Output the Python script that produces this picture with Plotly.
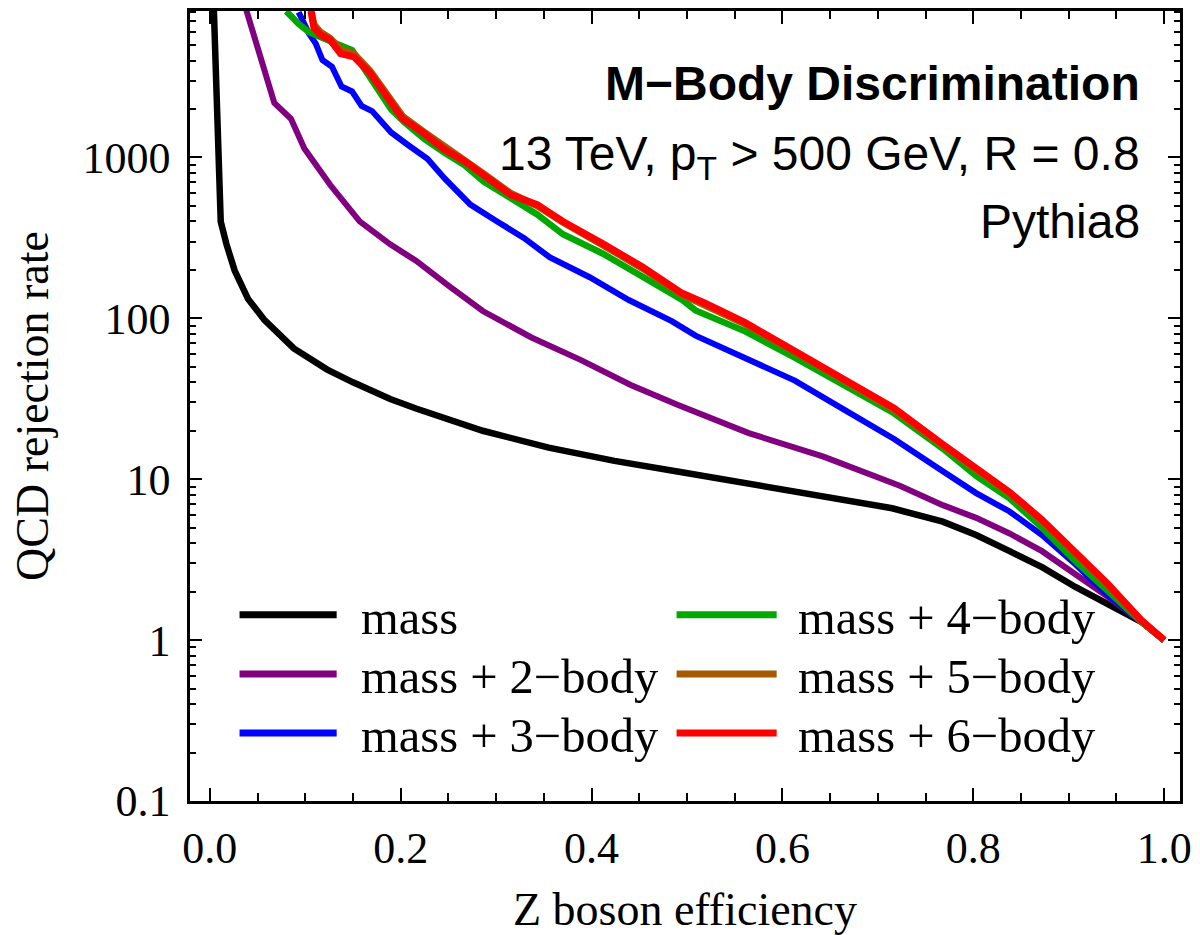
import plotly.graph_objects as go

# ---------------- data ----------------
series_names = ["mass", "mass + 2−body", "mass + 3−body",
                "mass + 4−body", "mass + 5−body", "mass + 6−body"]
series_colors = ["#000000", "#800080", "#0000ff", "#00a800", "#a65a00", "#ff0000"]

mass_x = [0.004, 0.0114, 0.0173, 0.026, 0.040, 0.057, 0.088, 0.123, 0.150, 0.189,
          0.216, 0.286, 0.355, 0.424, 0.493, 0.612, 0.715, 0.768, 0.803,
          0.838, 0.872, 0.907, 0.941, 0.976, 1.0]
mass_y = [9000, 400, 290, 198, 132, 98, 65, 48, 40, 31.5,
          27.5, 20, 15.7, 13.0, 11.1, 8.5, 6.6, 5.45, 4.5,
          3.57, 2.84, 2.14, 1.69, 1.3, 1.0]

body2_x = [0.0375, 0.0675, 0.085, 0.099, 0.126, 0.157, 0.189, 0.216, 0.251, 0.286,
           0.337, 0.389, 0.441, 0.49, 0.564, 0.613, 0.643, 0.723, 0.768, 0.803,
           0.838, 0.872, 0.907, 0.941, 0.976, 1.0]
body2_y = [8500, 2180, 1740, 1137, 676, 400, 288, 228, 158, 111,
           76, 55, 38.5, 29, 19.4, 15.8, 13.8, 9.1, 6.9, 5.75,
           4.6, 3.57, 2.57, 1.86, 1.3, 1.0]

body3_x = [0.093, 0.104, 0.111, 0.118, 0.128, 0.138, 0.149, 0.159, 0.170, 0.180,
           0.190, 0.208, 0.228, 0.246, 0.273, 0.301, 0.329, 0.356, 0.398, 0.439,
           0.484, 0.509, 0.561, 0.613, 0.665, 0.717, 0.768, 0.803, 0.838, 0.872,
           0.907, 0.941, 0.976, 1.0]
body3_y = [8000, 5860, 5100, 4030, 3660, 2760, 2570, 2090, 1940, 1650,
           1430, 1190, 980, 740, 509, 400, 316, 240, 180, 130,
           96, 78, 57, 41, 27, 17.8, 11.2, 8.2, 6.3, 4.5,
           2.96, 1.9, 1.3, 1.0]

body4_x = [0.080, 0.093, 0.104, 0.118, 0.132, 0.149, 0.163, 0.177, 0.190, 0.204,
           0.225, 0.246, 0.267, 0.287, 0.315, 0.343, 0.370, 0.412, 0.453, 0.495,
           0.509, 0.561, 0.613, 0.665, 0.717, 0.768, 0.803, 0.838, 0.872, 0.907,
           0.941, 0.976, 1.0]
body4_y = [8100, 6760, 6000, 5600, 5100, 4640, 3500, 2640, 1990, 1650,
           1300, 1070, 895, 708, 561, 442, 333, 252, 182, 130,
           112, 83, 57, 38.4, 25.7, 15.5, 10.5, 7.6, 5.0, 3.1,
           2.0, 1.3, 1.0]

body5_x = [0.106, 0.109, 0.116, 0.126, 0.137, 0.151, 0.168, 0.182, 0.202, 0.223,
           0.244, 0.268, 0.287, 0.315, 0.343, 0.370, 0.412, 0.453, 0.495, 0.519,
           0.561, 0.613, 0.665, 0.717, 0.768, 0.803, 0.838, 0.872, 0.907, 0.941,
           0.976, 1.0]
body5_y = [8300, 6700, 6000, 5500, 4700, 4400, 3450, 2600, 1800, 1460,
           1180, 950, 790, 600, 500, 395, 285, 205, 140, 121,
           92, 62, 41.5, 27, 16.2, 11.4, 8.2, 5.5, 3.5, 2.2,
           1.32, 1.0]

body6_x = [0.106, 0.109, 0.116, 0.126, 0.137, 0.151, 0.168, 0.182, 0.202, 0.223,
           0.244, 0.268, 0.287, 0.315, 0.343, 0.370, 0.412, 0.453, 0.495, 0.519,
           0.561, 0.613, 0.665, 0.717, 0.768, 0.803, 0.838, 0.872, 0.907, 0.941,
           0.976, 1.0]
body6_y = [8100, 6400, 5780, 5370, 4420, 4220, 3330, 2510, 1740, 1430,
           1140, 937, 777, 586, 509, 400, 290, 209, 143, 124,
           94, 63, 42, 27.6, 16.5, 11.6, 8.3, 5.6, 3.57, 2.23,
           1.33, 1.0]

x_tickvals = [0.0, 0.2, 0.4, 0.6, 0.8, 1.0]
x_ticktext = ["0.0", "0.2", "0.4", "0.6", "0.8", "1.0"]
x_minorvals = [0.05, 0.1, 0.15, 0.25, 0.3, 0.35, 0.45, 0.5, 0.55,
               0.65, 0.7, 0.75, 0.85, 0.9, 0.95]
y_tickvals = [0.1, 1, 10, 100, 1000]
y_ticktext = ["0.1", "1", "10", "100", "1000"]
y_minorvals = [m * d for d in (0.1, 1, 10, 100, 1000) for m in range(2, 10)]

title_lines = ["<b>M−Body Discrimination</b>",
               "13 TeV, p<sub>T</sub> > 500 GeV, R = 0.8",
               "Pythia8"]

# ---------------- figure ----------------
W, H = 1200, 935
ML, MR, MT, MB = 190, 11, 8, 125
PW, PH = W - ML - MR, H - MT - MB


def px(xp):
    return (xp - ML) / PW


def py(yp):
    return (H - MB - yp) / PH


xs = [mass_x, body2_x, body3_x, body4_x, body5_x, body6_x]
ys = [mass_y, body2_y, body3_y, body4_y, body5_y, body6_y]
widths = [6.5, 6, 6, 6.5, 7, 7]

fig = go.Figure()
for name, col, xv, yv, w in zip(series_names, series_colors, xs, ys, widths):
    fig.add_trace(go.Scatter(x=xv, y=yv, mode="lines", name=name,
                             line=dict(color=col, width=w), showlegend=False))

serif = "Liberation Serif, Times New Roman, serif"
sans = "Liberation Sans, Arial, sans-serif"

axis_common = dict(showline=True, linecolor="black", linewidth=2.5, mirror="allticks",
                   ticks="inside", tickcolor="black", tickwidth=2, showgrid=False,
                   zeroline=False, ticklabeloverflow="allow",
                   tickfont=dict(family=serif, size=44, color="black"))

fig.update_xaxes(range=[-0.0208, 1.0166], tickmode="array", tickvals=x_tickvals,
                 ticktext=x_ticktext, ticklen=13, ticklabelstandoff=6,
                 minor=dict(tickmode="array", tickvals=x_minorvals, ticks="inside",
                            ticklen=8, tickcolor="black", tickwidth=1.5, showgrid=False),
                 title=dict(text="Z boson efficiency", standoff=22,
                            font=dict(family=serif, size=46, color="black")),
                 **axis_common)
fig.update_yaxes(type="log", range=[-1, 3.91], tickmode="array", tickvals=y_tickvals,
                 ticktext=y_ticktext, ticklen=12, ticklabelstandoff=8,
                 minor=dict(tickmode="array", tickvals=y_minorvals, ticks="inside",
                            ticklen=6, tickcolor="black", tickwidth=1.5, showgrid=False),
                 title=dict(text="QCD rejection rate", standoff=20,
                            font=dict(family=serif, size=46, color="black")),
                 **axis_common)

# legend drawn manually (two columns, long line samples)
leg_rows = [621, 681, 741]
leg_cols = [(240, 338, 361), (681, 782, 802)]
shapes = []
annotations = []
for i, (name, col) in enumerate(zip(series_names, series_colors)):
    c, r = divmod(i, 3)
    x0, x1, xt = leg_cols[c]
    yy = leg_rows[r]
    shapes.append(dict(type="line", xref="paper", yref="paper",
                       x0=px(x0), x1=px(x1), y0=py(yy), y1=py(yy),
                       line=dict(color=col, width=7)))
    annotations.append(dict(text=name, xref="paper", yref="paper",
                            x=px(xt), y=py(yy + 3), xanchor="left", yanchor="middle",
                            showarrow=False,
                            font=dict(family=serif, size=48.5, color="black")))

for t, yy in zip(title_lines, [82, 156, 222]):
    annotations.append(dict(text=t, xref="paper", yref="paper", x=px(1151), y=py(yy),
                            xanchor="right", yanchor="middle", showarrow=False,
                            font=dict(family=sans, size=48, color="black")))

fig.update_layout(width=W, height=H, margin=dict(l=ML, r=MR, t=MT, b=MB),
                  plot_bgcolor="white", paper_bgcolor="white",
                  shapes=shapes, annotations=annotations, showlegend=False)

fig.write_html("out.html")
